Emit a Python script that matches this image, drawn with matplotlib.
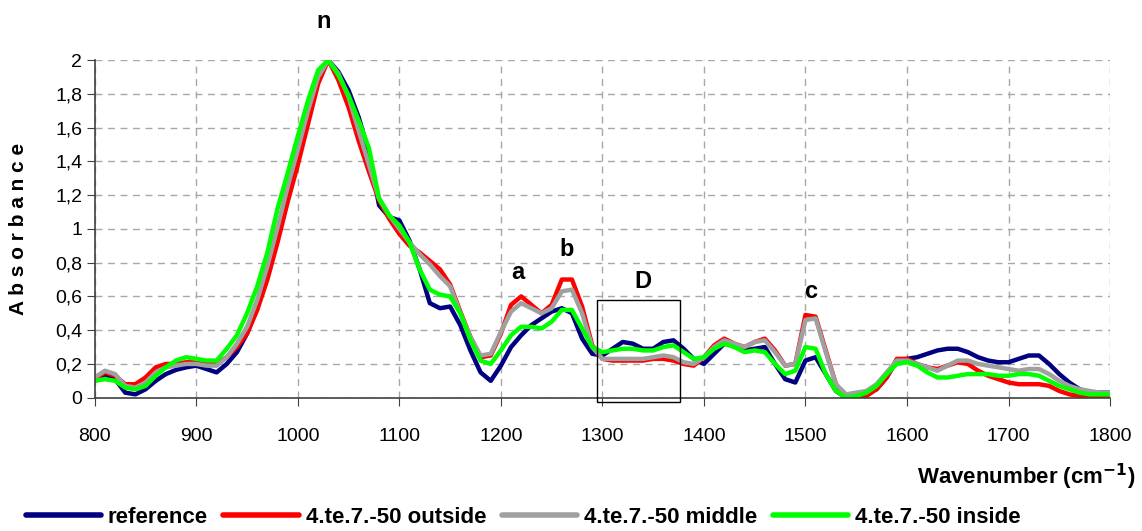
import matplotlib
matplotlib.use('Agg')
import matplotlib.pyplot as plt
import numpy as np
from matplotlib.patches import Rectangle

plt.rcParams['font.family'] = ['Liberation Sans', 'DejaVu Sans']

# wavenumber grid (cm-1)
wavenumber = np.arange(800, 1801, 10)

reference = [
    0.10, 0.14, 0.11, 0.03, 0.02, 0.05, 0.10, 0.14, 0.165, 0.18,
    0.19, 0.17, 0.15, 0.20, 0.27, 0.38, 0.53, 0.72, 0.94, 1.18,
    1.42, 1.66, 1.90, 2.00, 1.93, 1.82, 1.66, 1.45, 1.14, 1.07,
    1.05, 0.93, 0.76, 0.56, 0.53, 0.54, 0.43, 0.28, 0.15, 0.10,
    0.19, 0.30, 0.37, 0.43, 0.47, 0.51, 0.53, 0.50, 0.35, 0.26,
    0.25, 0.29, 0.33, 0.32, 0.29, 0.29, 0.33, 0.34, 0.29, 0.23,
    0.20, 0.26, 0.32, 0.31, 0.28, 0.29, 0.30, 0.20, 0.11, 0.09,
    0.22, 0.24, 0.14, 0.04, 0.00, 0.01, 0.03, 0.05, 0.12, 0.22,
    0.23, 0.24, 0.26, 0.28, 0.29, 0.29, 0.27, 0.24, 0.22, 0.21,
    0.21, 0.23, 0.25, 0.25, 0.20, 0.14, 0.09, 0.05, 0.03, 0.03,
    0.03,
]
outside = [
    0.11, 0.15, 0.13, 0.08, 0.08, 0.12, 0.18, 0.20, 0.20, 0.21,
    0.21, 0.21, 0.20, 0.24, 0.30, 0.38, 0.52, 0.70, 0.92, 1.16,
    1.38, 1.62, 1.86, 2.00, 1.88, 1.72, 1.52, 1.34, 1.17, 1.06,
    0.97, 0.90, 0.86, 0.81, 0.76, 0.67, 0.51, 0.36, 0.24, 0.25,
    0.38, 0.55, 0.60, 0.55, 0.50, 0.55, 0.70, 0.70, 0.54, 0.31,
    0.23, 0.22, 0.22, 0.22, 0.22, 0.23, 0.23, 0.22, 0.20, 0.19,
    0.24, 0.31, 0.35, 0.32, 0.30, 0.33, 0.35, 0.28, 0.19, 0.20,
    0.49, 0.48, 0.28, 0.08, 0.00, 0.00, 0.01, 0.05, 0.12, 0.23,
    0.23, 0.20, 0.18, 0.17, 0.19, 0.21, 0.20, 0.16, 0.13, 0.11,
    0.09, 0.08, 0.08, 0.08, 0.07, 0.04, 0.02, 0.01, 0.01, 0.01,
    0.01,
]
middle = [
    0.12, 0.16, 0.14, 0.07, 0.06, 0.09, 0.15, 0.18, 0.19, 0.20,
    0.20, 0.19, 0.19, 0.24, 0.32, 0.42, 0.58, 0.78, 1.01, 1.25,
    1.47, 1.70, 1.90, 2.00, 1.92, 1.78, 1.58, 1.38, 1.18, 1.08,
    1.00, 0.92, 0.85, 0.79, 0.72, 0.66, 0.50, 0.36, 0.25, 0.26,
    0.39, 0.51, 0.56, 0.53, 0.50, 0.53, 0.63, 0.64, 0.50, 0.30,
    0.23, 0.23, 0.23, 0.23, 0.23, 0.24, 0.25, 0.24, 0.21, 0.20,
    0.24, 0.30, 0.34, 0.32, 0.30, 0.33, 0.34, 0.27, 0.19, 0.20,
    0.46, 0.47, 0.27, 0.08, 0.02, 0.03, 0.04, 0.08, 0.15, 0.22,
    0.22, 0.20, 0.18, 0.16, 0.19, 0.22, 0.22, 0.20, 0.19, 0.18,
    0.17, 0.16, 0.17, 0.17, 0.14, 0.10, 0.07, 0.05, 0.04, 0.03,
    0.03,
]
inside = [
    0.10, 0.11, 0.10, 0.06, 0.05, 0.07, 0.13, 0.18, 0.22, 0.24,
    0.23, 0.22, 0.22, 0.29, 0.37, 0.50, 0.66, 0.86, 1.12, 1.33,
    1.55, 1.76, 1.94, 2.00, 1.91, 1.79, 1.64, 1.48, 1.18, 1.08,
    1.02, 0.92, 0.76, 0.64, 0.61, 0.60, 0.50, 0.34, 0.22, 0.20,
    0.28, 0.37, 0.42, 0.42, 0.41, 0.45, 0.52, 0.52, 0.41, 0.30,
    0.27, 0.28, 0.29, 0.29, 0.28, 0.28, 0.30, 0.31, 0.27, 0.23,
    0.24, 0.29, 0.32, 0.30, 0.27, 0.28, 0.27, 0.20, 0.14, 0.16,
    0.30, 0.29, 0.14, 0.04, 0.00, 0.01, 0.03, 0.07, 0.14, 0.20,
    0.21, 0.19, 0.15, 0.12, 0.12, 0.13, 0.14, 0.14, 0.14, 0.13,
    0.13, 0.14, 0.14, 0.13, 0.10, 0.07, 0.05, 0.03, 0.02, 0.02,
    0.02,
]

series = [
    ('reference', reference, '#000080'),
    ('4.te.7.-50 outside', outside, '#FF0000'),
    ('4.te.7.-50 middle', middle, '#A0A0A0'),
    ('4.te.7.-50 inside', inside, '#00FF00'),
]

peak_labels = ['n', 'a', 'b', 'D', 'c']
peak_x = [1025, 1217, 1265, 1340, 1505]
peak_y = [2.23, 0.74, 0.88, 0.69, 0.63]

fig = plt.figure(figsize=(11.42, 5.31), dpi=100)
ax = fig.add_axes([0.083, 0.251, 0.889, 0.636])

for name, vals, col in series:
    ax.plot(wavenumber, vals, color=col, lw=3.2, label=name,
            solid_joinstyle='round', solid_capstyle='round')

ax.set_xlim(800, 1800)
ax.set_ylim(0, 2)
ax.set_xticks(np.arange(800, 1801, 100))
yt = np.round(np.arange(0, 2.01, 0.2), 1)
ax.set_yticks(yt)
ax.set_yticklabels([('%g' % v).replace('.', ',') for v in yt])
ax.tick_params(labelsize=14, length=6, color='#404040', pad=3)
ax.tick_params(axis='x', pad=16)

ax.grid(True, ls=(0, (5, 4)), color='#A8A8A8', lw=1)
for s in ['top', 'right']:
    ax.spines[s].set_visible(False)
for s in ['left', 'bottom']:
    ax.spines[s].set_color('#404040')
    ax.spines[s].set_linewidth(1.2)

ax.set_ylabel('A b s o r b a n c e', fontsize=15, fontweight='bold')
ax.yaxis.set_label_coords(-0.066, 0.5)
ax.set_xlabel('Wavenumber (cm$^{\\mathbf{-1}}$)', fontsize=16, fontweight='bold')
ax.xaxis.set_label_coords(1.025, -0.19)
ax.xaxis.label.set_horizontalalignment('right')

for t, x, y in zip(peak_labels, peak_x, peak_y):
    ax.text(x, y, t, fontsize=17, fontweight='bold', ha='center', va='center', clip_on=False)

ax.add_patch(Rectangle((1295, -0.025), 81, 0.605, fill=False, ec='black', lw=1, clip_on=False, zorder=5))

leg = fig.legend(loc='center', bbox_to_anchor=(0.458, 0.025), ncol=4, frameon=False,
                 prop={'weight': 'bold', 'size': 16}, handlelength=3.4, columnspacing=0.7,
                 handletextpad=0.3)
for h in leg.get_lines():
    h.set_linewidth(4)

fig.savefig('out.png', dpi=100)
